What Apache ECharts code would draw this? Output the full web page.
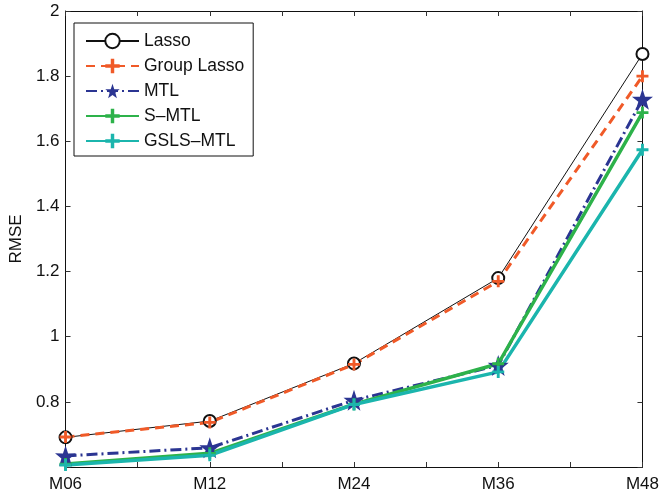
<!DOCTYPE html>
<html>
<head>
<meta charset="utf-8">
<script src="https://cdn.jsdelivr.net/npm/echarts@6/dist/echarts.min.js"></script>
<style>
html,body{margin:0;padding:0;background:#fff;}
#chart{width:662px;height:493px;}
</style>
</head>
<body>
<div id="chart"></div>
<script>
const categories = ['M06', 'M12', 'M24', 'M36', 'M48'];
const lasso = [0.691, 0.741, 0.918, 1.180, 1.868];
const groupLasso = [0.692, 0.737, 0.915, 1.170, 1.800];
const mtl = [0.634, 0.659, 0.805, 0.912, 1.729];
const smtl = [0.609, 0.642, 0.793, 0.917, 1.688];
const gslsMtl = [0.606, 0.636, 0.792, 0.892, 1.574];
const seriesNames = ['Lasso', 'Group Lasso', 'MTL', 'S\u2013MTL', 'GSLS\u2013MTL'];

const FONT = 'Liberation Sans, Arial, sans-serif';
const STAR = 'path://M50,0 L61.8,35.1 L98.1,34.5 L69.1,56.7 L79.4,91.5 L50,70.6 L20.6,91.5 L30.9,56.7 L1.9,34.5 L38.2,35.1 Z';
const PLUS = 'path://M38,0H62V38H100V62H62V100H38V62H0V38H38Z';

function pts(arr) { return arr.map((v, i) => [i, v]); }

const chart = echarts.init(document.getElementById('chart'), null, {renderer: 'canvas'});

const axisCommonX = {
  type: 'value', min: 0, max: categories.length - 1, interval: 0.5,
  splitLine: {show: false},
  axisLine: {show: true, onZero: false, lineStyle: {color: '#111', width: 1}},
  axisTick: {show: true, inside: true, length: 5, lineStyle: {color: '#333'}}
};
const axisCommonY = {
  type: 'value', min: 0.6, max: 2, interval: 0.2,
  splitLine: {show: false},
  axisLine: {show: true, onZero: false, lineStyle: {color: '#111', width: 1}},
  axisTick: {show: true, inside: true, length: 5, lineStyle: {color: '#333'}}
};

chart.setOption({
  animation: false,
  backgroundColor: '#fff',
  grid: {left: 65, right: 17, top: 11, bottom: 25, containLabel: false},
  xAxis: [
    Object.assign({}, axisCommonX, {
      position: 'bottom',
      axisLabel: {
        show: true, margin: 9, color: '#111', fontSize: 17, fontFamily: FONT,
        formatter: v => (Math.abs(v - Math.round(v)) < 1e-6 ? categories[Math.round(v)] : '')
      }
    }),
    Object.assign({}, axisCommonX, {position: 'top', axisLabel: {show: false}})
  ],
  yAxis: [
    Object.assign({}, axisCommonY, {
      position: 'left',
      name: 'RMSE', nameLocation: 'middle', nameGap: 40, nameRotate: 90,
      nameTextStyle: {color: '#111', fontSize: 17, fontFamily: FONT},
      axisLabel: {
        show: true, margin: 6, color: '#111', fontSize: 17, fontFamily: FONT,
        formatter: v => (v < 0.7 ? '' : String(+v.toFixed(1)))
      }
    }),
    Object.assign({}, axisCommonY, {position: 'right', axisLabel: {show: false}})
  ],
  legend: {
    left: 74, top: 23, orient: 'vertical',
    backgroundColor: '#fff', borderColor: '#111', borderWidth: 1, borderRadius: 0,
    padding: [9, 9, 6, 11],
    itemWidth: 53, itemHeight: 18, itemGap: 7,
    textStyle: {color: '#111', fontSize: 17.5, fontFamily: FONT, lineHeight: 18},
    data: seriesNames
  },
  series: [
    {
      name: seriesNames[0], type: 'line', data: pts(lasso),
      symbol: 'emptyCircle', symbolSize: 12,
      lineStyle: {color: '#111', width: 1},
      itemStyle: {color: '#111', borderColor: '#111', borderWidth: 1.2}
    },
    {
      name: seriesNames[1], type: 'line', data: pts(groupLasso),
      symbol: PLUS, symbolSize: 12,
      lineStyle: {color: '#f05a28', width: 3, type: [9, 6]},
      itemStyle: {color: '#f05a28'}
    },
    {
      name: seriesNames[2], type: 'line', data: pts(mtl),
      symbol: STAR, symbolSize: 21,
      lineStyle: {color: '#2b3592', width: 3, type: [11, 4, 2, 4]},
      itemStyle: {color: '#2b3592'}
    },
    {
      name: seriesNames[3], type: 'line', data: pts(smtl),
      symbol: PLUS, symbolSize: 12,
      lineStyle: {color: '#2db24a', width: 3.5},
      itemStyle: {color: '#2db24a'}
    },
    {
      name: seriesNames[4], type: 'line', data: pts(gslsMtl),
      symbol: PLUS, symbolSize: 12,
      lineStyle: {color: '#1bb5ad', width: 3.5},
      itemStyle: {color: '#1bb5ad'}
    }
  ]
});
</script>
</body>
</html>
